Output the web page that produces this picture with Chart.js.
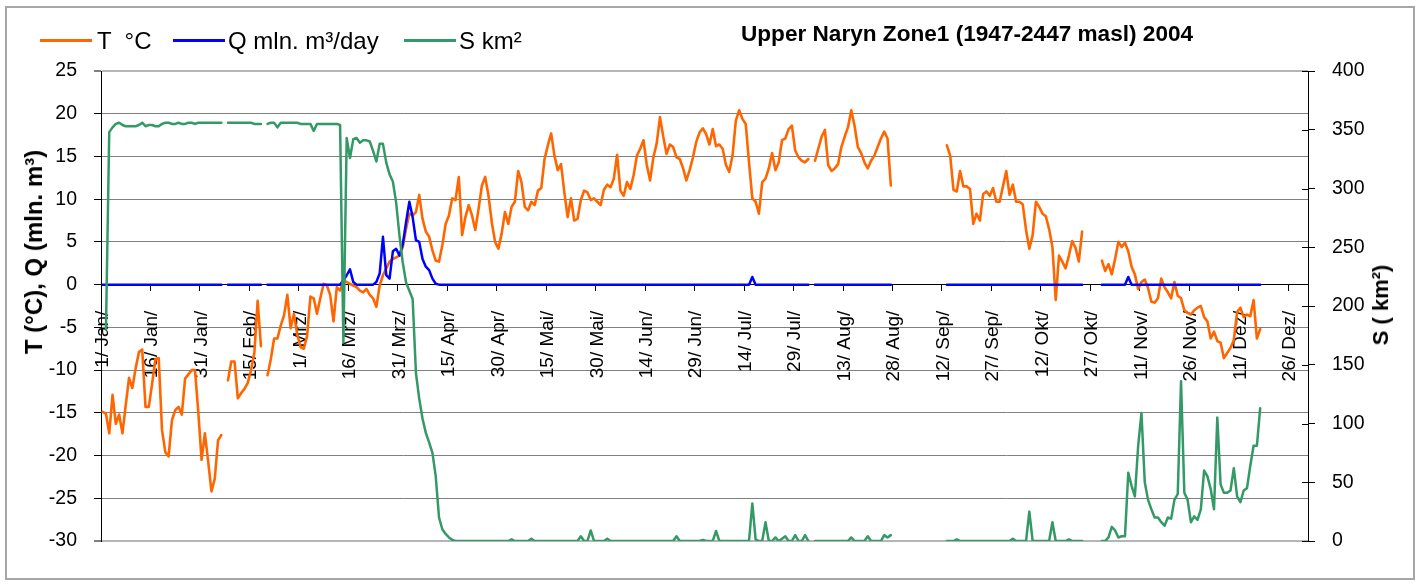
<!DOCTYPE html>
<html>
<head>
<meta charset="utf-8">
<title>Upper Naryn Zone1 (1947-2447 masl) 2004</title>
<script src="https://cdn.jsdelivr.net/npm/chart.js@4.4.1/dist/chart.umd.min.js"></script>
<style>
    html, body { margin: 0; padding: 0; background: #fff; }
    #wrap {
        position: relative; width: 1420px; height: 584px; overflow: hidden;
        font-family: "Liberation Sans", Arial, sans-serif; color: #000;
    }
    #frame {
        position: absolute; left: 5px; top: 6px; width: 1410px; height: 574px;
        border: 2px solid #a6a6a6; box-sizing: border-box;
    }
    #chart { position: absolute; left: 0; top: 0; }
    .lg-line { position: absolute; top: 39px; width: 52px; height: 3px; }
    .lg-text { position: absolute; top: 27px; font-size: 24px; line-height: 28px; white-space: pre; }
    #title {
        position: absolute; left: 741px; top: 21px; font-size: 22.6px; line-height: 26px;
        font-weight: bold; white-space: nowrap;
    }
    .axis-title {
        position: absolute; font-weight: bold; white-space: nowrap;
        transform: translate(-50%, -50%) rotate(-90deg);
    }
</style>
</head>
<body>
<div id="wrap">
    <div id="frame"></div>
    <canvas id="chart" width="1420" height="584"></canvas>

    <div class="lg-line" style="left:40px;background:#ff6600"></div>
    <div class="lg-text" style="left:97px">T  °C</div>
    <div class="lg-line" style="left:173px;background:#0000ff"></div>
    <div class="lg-text" style="left:228px">Q mln. m³/day</div>
    <div class="lg-line" style="left:404px;background:#339966"></div>
    <div class="lg-text" style="left:459px">S km²</div>

    <div id="title">Upper Naryn Zone1 (1947-2447 masl) 2004</div>

    <div class="axis-title" style="left:34px;top:252px;font-size:24px">T (°C), Q (mln. m³)</div>
    <div class="axis-title" style="left:1381px;top:305px;font-size:22px">S ( km²)</div>
</div>

<script>
// Upper Naryn Zone1 - daily temperature, runoff and snow covered area, 2004 (leap year)

const DAYS = 366;
const FONT = '"Liberation Sans", Arial, sans-serif';

// one label every 15 days, starting 1 Jan
const tickLabels = [
    '1/ Jan/', '16/ Jan/', '31/ Jan/', '15/ Feb/', '1/ Mrz/', '16/ Mrz/', '31/ Mrz/',
    '15/ Apr/', '30/ Apr/', '15/ Mai/', '30/ Mai/', '14/ Jun/', '29/ Jun/', '14/ Jul/',
    '29/ Jul/', '13/ Aug/', '28/ Aug/', '12/ Sep/', '27/ Sep/', '12/ Okt/', '27/ Okt/',
    '11/ Nov/', '26/ Nov/', '11/ Dez/', '26/ Dez/'
];

// T in °C, one row per 15 days (row start = tick label above)
const tempC = [
    -14.9, -15.1, -17.4, -12.9, -16.3, -15.2, -17.4, -14.1, -10.9, -12.1, -9.8, -7.9, -7.6, -14.3, -14.3,
    -11.6, -8.7, -8.6, -17.0, -19.6, -20.1, -15.9, -14.7, -14.3, -15.2, -11.0, -10.5, -10.0, -10.0, -14.9,
    -20.5, -17.4, -20.7, -24.2, -22.7, -18.2, -17.6, null, -11.2, -9.0, -9.0, -13.3, -12.7, -12.2, -11.5,
    -10.0, -8.0, -1.9, -7.2, null, -10.6, -8.7, -6.3, -6.3, -4.8, -3.6, -1.2, -5.1, -3.4, -5.8,
    -7.3, -7.5, -6.0, -1.4, -1.6, -3.4, -1.6, 0.1, -0.1, -1.2, -4.3, -0.3, -0.7, 0.5, 0.3,
    0.1, -0.1, -0.3, -0.7, -0.9, -0.5, -1.2, -1.6, -2.6, -0.1, 1.1, 1.9, 2.7, 3.0, 3.2,
    3.4, 4.4, 6.5, 8.3, 8.1, 8.5, 10.5, 7.7, 6.2, 5.6, 4.0, 2.8, 2.7, 4.6, 7.1,
    8.1, 10.1, 9.9, 12.6, 5.8, 7.9, 9.3, 8.1, 6.4, 8.9, 11.6, 12.6, 10.4, 7.3, 5.0,
    4.2, 6.0, 8.5, 7.1, 9.1, 9.7, 13.3, 12.0, 9.1, 8.7, 9.7, 9.3, 11.0, 11.3, 14.7,
    16.3, 17.7, 15.1, 13.4, 14.1, 10.8, 7.9, 10.1, 7.5, 7.7, 9.9, 11.0, 10.8, 9.9, 10.1,
    9.7, 9.3, 11.1, 11.7, 11.4, 12.4, 15.2, 11.0, 10.4, 12.0, 11.2, 12.8, 15.1, 15.9, 16.9,
    14.0, 12.2, 14.9, 16.5, 19.6, 17.3, 15.3, 16.4, 16.1, 14.9, 14.7, 13.6, 12.2, 13.4, 14.9,
    16.7, 17.8, 18.3, 17.6, 16.4, 18.2, 16.2, 16.4, 15.9, 14.0, 13.2, 15.1, 19.2, 20.4, 19.4,
    18.8, 14.3, 10.1, 9.7, 8.3, 12.0, 12.4, 13.6, 15.4, 13.4, 14.3, 16.9, 17.1, 18.2, 18.6,
    15.7, 14.9, 14.5, 14.3, 14.7, null, 14.5, 15.9, 17.3, 18.1, 14.0, 13.3, 13.6, 14.1, 16.1,
    17.3, 18.4, 20.4, 18.6, 16.1, 15.4, 14.3, 13.6, 14.5, 15.1, 16.1, 17.1, 17.9, 17.1, 11.6,
    null, null, null, null, null, null, null, null, null, null, null, null, null, null, null,
    null, 16.3, 15.1, 11.1, 10.9, 13.3, 11.5, 11.5, 11.2, 7.1, 8.3, 7.5, 10.6, 10.9, 10.4,
    11.3, 9.7, 9.7, 11.5, 13.3, 10.5, 11.7, 9.7, 9.7, 9.4, 6.4, 4.2, 5.8, 9.7, 9.1,
    8.3, 8.0, 6.5, 4.4, -1.8, 3.4, 2.7, 1.9, 3.4, 5.1, 4.3, 2.7, 6.2, null, null,
    null, null, null, 2.8, 1.6, 2.4, 1.2, 3.0, 5.0, 4.4, 4.9, 3.9, 2.1, 1.2, -0.5,
    0.3, 0.6, -0.4, -2.0, -2.1, -1.6, 0.7, -0.3, -0.9, -1.6, 0.3, -1.3, -1.6, -3.0, -3.3,
    -3.5, -3.0, -2.7, -2.5, -3.8, -4.3, -6.3, -5.5, -6.6, -6.8, -8.6, -8.0, -7.4, -6.5, -3.2,
    -2.7, -3.8, -3.5, -3.7, -1.8, -6.3, -5.2, null, null, null, null, null, null, null, null,
    null, null, null, null, null, null
];

// Q in mln. m³/day
const runoff = [
    0, 0, 0, 0, 0, 0, 0, 0, 0, 0, 0, 0, 0, 0, 0,
    0, 0, 0, 0, 0, 0, 0, 0, 0, 0, 0, 0, 0, 0, 0,
    0, 0, 0, 0, 0, 0, 0, null, 0, 0, 0, 0, 0, 0, 0,
    0, 0, 0, 0, null, 0, 0, 0, 0, 0, 0, 0, 0, 0, 0,
    0, 0, 0, 0, 0, 0, 0, 0, 0, 0, 0, 0, 0, 0.5, 1.1,
    1.8, 0.3, 0, 0, 0, 0, 0, 0, 0.3, 1.3, 5.6, 1.1, 0.7, 3.9, 4.2,
    3.4, 4.7, 7.3, 9.7, 7.9, 5.2, 5.0, 3.0, 2.1, 1.7, 0.7, 0.1, 0, 0, 0,
    0, 0, 0, 0, 0, 0, 0, 0, 0, 0, 0, 0, 0, 0, 0,
    0, 0, 0, 0, 0, 0, 0, 0, 0, 0, 0, 0, 0, 0, 0,
    0, 0, 0, 0, 0, 0, 0, 0, 0, 0, 0, 0, 0, 0, 0,
    0, 0, 0, 0, 0, 0, 0, 0, 0, 0, 0, 0, 0, 0, 0,
    0, 0, 0, 0, 0, 0, 0, 0, 0, 0, 0, 0, 0, 0, 0,
    0, 0, 0, 0, 0, 0, 0, 0, 0, 0, 0, 0, 0, 0, 0,
    0, 0, 0.9, 0, 0, 0, 0, 0, 0, 0, 0, 0, 0, 0, 0,
    0, 0, 0, 0, 0, null, 0, 0, 0, 0, 0, 0, 0, 0, 0,
    0, 0, 0, 0, 0, 0, 0, 0, 0, 0, 0, 0, 0, 0, 0,
    null, null, null, null, null, null, null, null, null, null, null, null, null, null, null,
    null, 0, 0, 0, 0, 0, 0, 0, 0, 0, 0, 0, 0, 0, 0,
    0, 0, 0, 0, 0, 0, 0, 0, 0, 0, 0, 0, 0, 0, 0,
    0, 0, 0, 0, 0, 0, 0, 0, 0, 0, 0, 0, 0, null, null,
    null, null, null, 0, 0, 0, 0, 0, 0, 0, 0, 0.9, 0, 0, 0,
    0, 0, 0, 0, 0, 0, 0, 0, 0, 0, 0, 0, 0, 0, 0,
    0, 0, 0, 0, 0, 0, 0, 0, 0, 0, 0, 0, 0, 0, 0,
    0, 0, 0, 0, 0, 0, 0, null, null, null, null, null, null, null, null,
    null, null, null, null, null, null
];

// S in km² (right axis)
const snowArea = [
    null, 180, 348, 352, 355, 356, 354, 353, 353, 353, 353, 354, 356, 353, 354,
    354, 353, 353, 355, 356, 356, 355, 355, 356, 355, 355, 356, 356, 355, 356,
    356, 356, 356, 356, 356, 356, 356, null, 356, 356, 356, 356, 356, 356, 356,
    356, 355, 355, 355, null, 355, 356, 356, 352, 356, 356, 356, 356, 356, 356,
    355, 355, 355, 355, 349, 355, 355, 355, 355, 355, 355, 355, 354, 169, 343,
    326, 342, 343, 339, 341, 341, 340, 332, 323, 338, 338, 322, 312, 306, 288,
    260, 237, 220, 213, 206, 143, 121, 104, 92, 84, 75, 55, 20, 10, 6,
    3, 1, 0, 0, 0, 0, 0, 0, 0, 0, 0, 0, 0, 0, 0,
    0, 0, 0, 0, 1.5, 0, 0, 0, 0, 0, 2, 0, 0, 0, 0,
    0, 0, 0, 0, 0, 0, 0, 0, 0, 0, 4, 0, 0, 9, 0,
    0, 0, 0, 2, 0, 0, 0, 0, 0, 0, 0, 0, 0, 0, 0,
    0, 0, 0, 0, 0, 0, 0, 0, 0, 4, 0, 0, 0, 0, 0,
    0, 0, 1, 0, 0, 0, 8.5, 0, 0, 0, 0, 0, 0, 0, 0,
    0, 0, 32, 1.4, 0, 0, 16, 0, 0, 3, 0, 2, 4, 0, 0,
    5, 0, 0, 5, 0, null, 0, 0, 0, 0, 0, 0, 0, 0, 0,
    0, 0, 3, 0, 0, 0, 0, 4, 0, 0, 0, 0, 5, 3, 5,
    null, null, null, null, null, null, null, null, null, null, null, null, null, null, null,
    null, 0, 0, 0, 1.5, 0, 0, 0, 0, 0, 0, 0, 0, 0, 0,
    0, 0, 0, 0, 0, 0, 2, 0, 0, 0, 0, 25, 0, 0, 0,
    0, 0, 0, 16, 0, 0, 0, 0, 1.5, 0, 0, 0, 0, null, null,
    null, null, null, 0, 0, 3, 12, 9, 3, 4, 4, 58, 47, 38, 81,
    109, 50, 35, 27, 20, 20, 16, 13, 20, 19, 35, 40, 136, 41, 35,
    16, 21, 18, 27, 60, 55, 44, 27, 105, 48, 41, 41, 43, 62, 38,
    33, 43, 45, 64, 81, 81, 113, null, null, null, null, null, null, null, null,
    null, null, null, null, null, null
];

// category per day, only every 15th day carries a label
function buildCategories() {
    const cats = [];
    for (let i = 0; i < DAYS; i++) {
        cats.push(i % 15 === 0 ? tickLabels[i / 15] : '');
    }
    return cats;
}

function isEdge(value) {
    return value === 25 || value === -30;
}

// right axis tick marks cross the axis line, Chart.js only draws the outer half
const innerTicks = {
    id: 'innerTicks',
    beforeDatasetsDraw(chart) {
        const scale = chart.scales.y1;
        const c = chart.ctx;
        c.save();
        c.strokeStyle = '#000';
        c.lineWidth = 1;
        c.beginPath();
        scale.ticks.forEach(t => {
            const y = Math.round(scale.getPixelForValue(t.value)) + 0.5;
            c.moveTo(scale.left - 6, y);
            c.lineTo(scale.left, y);
        });
        c.stroke();
        c.restore();
    }
};

function renderChart() {
    const ctx = document.getElementById('chart');

    new Chart(ctx, {
        type: 'line',
        data: {
            labels: buildCategories(),
            datasets: [
                { label: 'T  °C', data: tempC, borderColor: '#ff6600', borderWidth: 2.6, yAxisID: 'y', order: 3 },
                { label: 'Q mln. m³/day', data: runoff, borderColor: '#0000ff', borderWidth: 2.5, yAxisID: 'y', order: 2 },
                { label: 'S km²', data: snowArea, borderColor: '#339966', borderWidth: 2.5, yAxisID: 'y1', order: 1 }
            ]
        },
        options: {
            responsive: false,
            animation: false,
            layout: { padding: { top: 71, bottom: 43, left: 0, right: 0 } },
            elements: {
                point: { radius: 0, hoverRadius: 0 },
                line: { tension: 0, borderCapStyle: 'round', borderJoinStyle: 'round', fill: false }
            },
            plugins: {
                legend: { display: false },
                tooltip: { enabled: false }
            },
            scales: {
                x: {
                    type: 'category',
                    position: { y: 0 },
                    offset: true,
                    grid: {
                        offset: true,
                        drawOnChartArea: false,
                        tickLength: 6,
                        tickColor: c => (c.index % 15 === 0 ? '#000' : 'rgba(0,0,0,0)')
                    },
                    border: { display: true, color: '#000', width: 1 },
                    ticks: {
                        autoSkip: false,
                        minRotation: 90,
                        maxRotation: 90,
                        padding: 20,
                        color: '#000',
                        font: { family: FONT, size: 19 }
                    }
                },
                y: {
                    position: 'left',
                    min: -30,
                    max: 25,
                    ticks: { stepSize: 5, padding: 17, color: '#000', font: { family: FONT, size: 19.5 } },
                    grid: {
                        color: c => (isEdge(c.tick.value) ? '#b5b5b5' : '#7f7f7f'),
                        lineWidth: c => (isEdge(c.tick.value) ? 2 : 1),
                        tickColor: '#000',
                        tickWidth: 1,
                        tickLength: 7
                    },
                    border: { color: '#000', width: 1 },
                    afterFit: s => { s.width = 101; }
                },
                y1: {
                    position: 'right',
                    min: 0,
                    max: 400,
                    ticks: { stepSize: 50, padding: 17, color: '#000', font: { family: FONT, size: 19.5 } },
                    grid: { drawOnChartArea: false, tickColor: '#000', tickLength: 7 },
                    border: { color: '#000', width: 1 },
                    afterFit: s => { s.width = 112; }
                }
            }
        },
        plugins: [innerTicks]
    });
}

document.addEventListener('DOMContentLoaded', renderChart);
</script>
</body>
</html>
